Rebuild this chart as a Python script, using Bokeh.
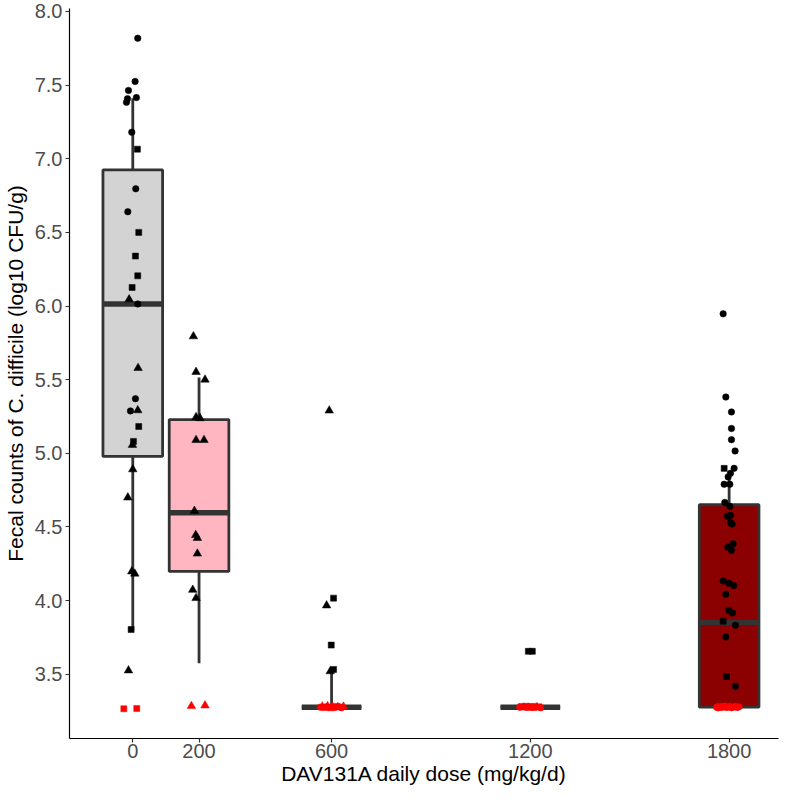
from bokeh.plotting import figure
from bokeh.models import Range1d, FixedTicker, ColumnDataSource, NumeralTickFormatter
from bokeh.embed import file_html
from bokeh.resources import INLINE

# ---------------- data ----------------
doses = [0, 200, 600, 1200, 1800]
dose_labels = ["0", "200", "600", "1200", "1800"]
box_q1 = [4.98, 4.198, 3.277, 3.277, 3.277]
box_median = [6.014, 4.597, 3.277, 3.277, 3.851]
box_q3 = [6.924, 5.229, 3.277, 3.277, 4.651]
whisker_low = [3.80, 3.575, 3.277, 3.277, 3.277]
whisker_high = [7.41, 5.514, 3.53, 3.277, 4.88]
LOD = 3.30  # values at/below this are the detection limit (drawn red)

# jittered individual points: x (dose + jitter), value, shape
pts0_x = [15, 7, -13, -16, -19, 11, -3, 14, 9, -15, 18, 8, 15, -2, -11, 15, 16, 8, -7, 15,
          18, 2, -1, 0, -15, -3, 6, -5, -13, -27, 12]
pts0_y = [7.818, 7.525, 7.464, 7.408, 7.383, 7.415, 7.180, 7.065, 6.796, 6.640, 6.500, 6.339,
          6.205, 6.126, 6.045, 6.014, 5.579, 5.371, 5.288, 5.292, 5.182, 5.081, 5.057, 4.891,
          4.70, 4.198, 4.183, 3.804, 3.526, 3.266, 3.268]
pts0_s = ["circle", "circle", "circle", "circle", "circle", "circle", "circle", "square",
          "circle", "circle", "square", "square", "square", "square", "triangle", "circle",
          "triangle", "circle", "circle", "triangle", "square", "square", "triangle",
          "triangle", "triangle", "triangle", "triangle", "square", "triangle", "square",
          "square"]

pts200_x = [183, 191, 218, 191, 203, 191, 215, 186, 190, 195, 195, 181, 191, 177, 218]
pts200_y = [5.794, 5.552, 5.50, 5.245, 5.238, 5.090, 5.090, 4.609, 4.445, 4.425, 4.319,
            4.073, 4.017, 3.284, 3.288]
pts200_s = ["triangle"] * 15

pts600_x = [593, 606, 585, 599, 606, 596,
            566, 572, 578, 583, 588, 592, 597, 601, 605, 610, 614, 619, 624, 630, 636]
pts600_y = [5.29, 4.017, 3.967, 3.698, 3.533, 3.52,
            3.277, 3.281, 3.274, 3.279, 3.283, 3.276, 3.272, 3.281, 3.278, 3.274, 3.282,
            3.276, 3.279, 3.273, 3.280]
pts600_s = ["triangle", "square", "triangle", "square", "square", "triangle",
            "circle", "triangle", "square", "circle", "triangle", "circle", "square",
            "triangle", "circle", "circle", "square", "triangle", "circle", "circle",
            "triangle"]

pts1200_x = [1194, 1206,
             1168, 1173, 1178, 1183, 1188, 1192, 1197, 1201, 1205, 1210, 1215, 1220, 1226,
             1231]
pts1200_y = [3.656, 3.656,
             3.277, 3.281, 3.274, 3.279, 3.283, 3.276, 3.272, 3.281, 3.278, 3.274, 3.282,
             3.276, 3.279, 3.273]
pts1200_s = ["square", "square",
             "circle", "square", "triangle", "circle", "square", "circle", "triangle",
             "square", "circle", "square", "circle", "triangle", "square", "circle"]

pts1800_x = [1782, 1790, 1807, 1807, 1807, 1818, 1815, 1804, 1797, 1785, 1802, 1787, 1802,
             1795, 1804, 1804, 1809, 1796, 1812, 1807, 1782, 1799, 1814, 1790, 1799, 1810,
             1819, 1790, 1819, 1785, 1782, 1792,
             1762, 1767, 1772, 1777, 1782, 1787, 1792, 1797, 1802, 1807, 1812, 1818, 1824,
             1830]
pts1800_y = [5.947, 5.382, 5.281, 5.169, 5.093, 5.016, 4.898, 4.864, 4.84, 4.79, 4.79,
             4.667, 4.64, 4.573, 4.58, 4.53, 4.52, 4.364, 4.386, 4.342, 4.133, 4.118, 4.102,
             4.043, 3.934, 3.916, 3.833, 3.753, 3.418, 4.898, 3.86, 3.485,
             3.277, 3.272, 3.281, 3.275, 3.279, 3.283, 3.274, 3.278, 3.281, 3.273, 3.277,
             3.282, 3.275, 3.279]
pts1800_s = ["circle"] * 29 + ["square"] * 3 + ["circle", "circle", "square", "circle",
             "circle", "circle", "circle", "square", "circle", "circle", "circle", "circle",
             "circle", "circle"]

# ---------------- styles ----------------
box_fill = ["#D3D3D3", "#FFB6C1", "#FFB6C1", "#FFB6C1", "#8B0000"]
box_width = 180
line_col = "#333333"
font = "Liberation Sans"
marker_size = {"circle": 6.5, "square": 6.0, "triangle": 8.5}

p = figure(width=784, height=787, x_range=Range1d(-191, 1949), y_range=Range1d(3.064, 8.02),
           output_backend="svg", toolbar_location=None, min_border_left=60, min_border_right=6,
           min_border_top=8, min_border_bottom=0)
p.background_fill_color = "white"
p.border_fill_color = "white"
p.outline_line_color = None
p.xgrid.visible = False
p.ygrid.visible = False

# whiskers
p.segment(x0=doses, y0=box_q3, x1=doses, y1=whisker_high, line_color=line_col, line_width=2.8)
p.segment(x0=doses, y0=box_q1, x1=doses, y1=whisker_low, line_color=line_col, line_width=2.8)
# boxes
p.vbar(x=doses, width=box_width, bottom=box_q1, top=box_q3, fill_color=box_fill,
       line_color=line_col, line_width=2.8)
# medians
half = box_width / 2
p.segment(x0=[d - half for d in doses], y0=box_median, x1=[d + half for d in doses],
          y1=box_median, line_color=line_col, line_width=5.5, line_cap="butt")

# points
all_x = pts0_x + pts200_x + pts600_x + pts1200_x + pts1800_x
all_y = pts0_y + pts200_y + pts600_y + pts1200_y + pts1800_y
all_s = pts0_s + pts200_s + pts600_s + pts1200_s + pts1800_s
src = ColumnDataSource(dict(
    x=all_x, y=all_y, marker=all_s,
    color=["#FF0000" if v <= LOD else "#000000" for v in all_y],
    size=[marker_size[s] for s in all_s],
))
p.scatter(x="x", y="y", marker="marker", size="size", fill_color="color", line_color="color",
          line_width=0.5, source=src)

# axes
p.xaxis.ticker = FixedTicker(ticks=doses)
p.xaxis.major_label_overrides = {d: l for d, l in zip(doses, dose_labels)}
p.yaxis.ticker = FixedTicker(ticks=[3.5, 4.0, 4.5, 5.0, 5.5, 6.0, 6.5, 7.0, 7.5, 8.0])
p.yaxis.formatter = NumeralTickFormatter(format="0.0")
p.xaxis.axis_label = "DAV131A daily dose (mg/kg/d)"
p.yaxis.axis_label = "Fecal counts of C. difficile (log10 CFU/g)"
for ax in (p.xaxis[0], p.yaxis[0]):
    ax.axis_line_color = "#000000"
    ax.axis_line_width = 1.2
    ax.major_tick_line_color = "#333333"
    ax.major_tick_line_width = 1.2
    ax.major_tick_in = 0
    ax.major_tick_out = 4
    ax.minor_tick_line_color = None
    ax.major_label_text_font = font
    ax.major_label_text_font_size = "20px"
    ax.major_label_text_color = "#4D4D4D"
    ax.major_label_standoff = 1
    ax.axis_label_text_font = font
    ax.axis_label_text_font_size = "21px"
    ax.axis_label_text_font_style = "normal"
    ax.axis_label_text_color = "#000000"
    ax.axis_label_standoff = 1
p.yaxis[0].major_label_standoff = 3
p.yaxis[0].axis_label_standoff = 5

open("out.html", "w").write(file_html(p, INLINE))
